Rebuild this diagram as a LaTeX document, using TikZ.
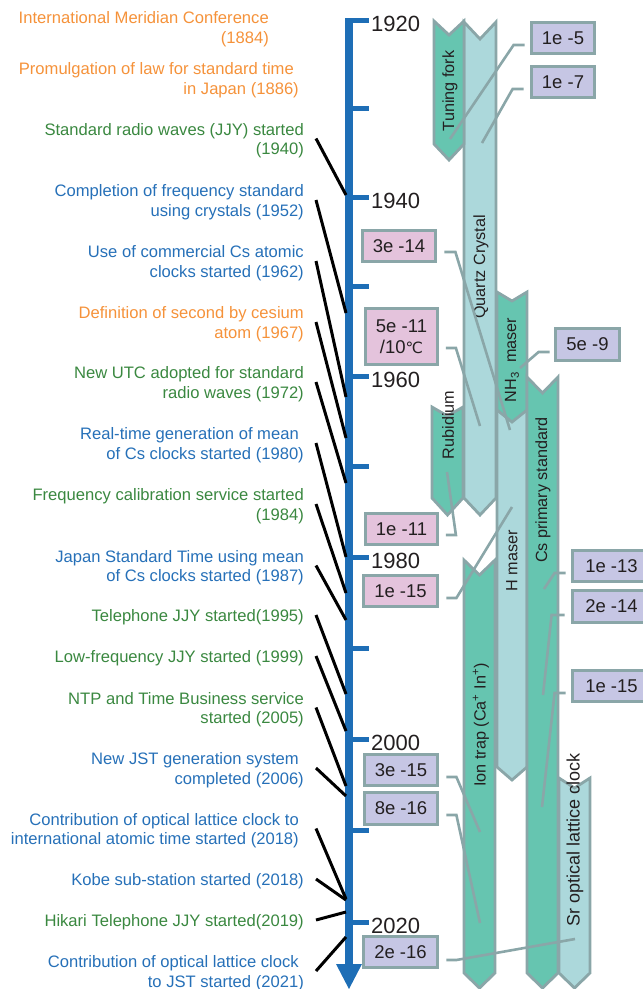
\documentclass[tikz,border=0pt]{standalone}
\usepackage{fontspec}
\setmainfont{Liberation Sans}
\newfontfamily\degfont{DejaVu Sans}

\definecolor{orangeT}{RGB}{245,146,58}
\definecolor{greenT}{RGB}{58,136,64}
\definecolor{blueT}{RGB}{38,112,184}
\definecolor{axisB}{RGB}{30,110,182}
\definecolor{barG}{RGB}{102,197,176}
\definecolor{barL}{RGB}{172,216,219}
\definecolor{edgeC}{RGB}{138,166,168}
\definecolor{pinkF}{RGB}{228,195,220}
\definecolor{lavF}{RGB}{198,198,228}
\definecolor{textD}{RGB}{35,31,32}

% chevron-shaped technology bar: left, right, top, notch depth, bottom, point depth, fill
\newcommand\chevbar[7]{%
  \filldraw[barline, fill=#7] (#1,#3) -- ({(#1+#2)/2},{#3+#4}) -- (#2,#3)
    -- (#2,#5) -- ({(#1+#2)/2},{#5+#6}) -- (#1,#5) -- cycle;}

\tikzset{
  evtext/.style={anchor=east, align=right, inner sep=0pt,
    font=\fontsize{16.6}{19.5}\selectfont},
  evline/.style={line width=3pt, black},
  yearlab/.style={anchor=west, inner sep=0pt,
    font=\fontsize{22}{24}\selectfont, text=textD},
  barline/.style={draw=edgeC, line width=2.8pt},
  barlab/.style={rotate=90, inner sep=0pt,
    font=\fontsize{16.2}{18}\selectfont, text=textD},
  valbox/.style={draw=edgeC, line width=2.8pt, inner sep=0pt,
    minimum height=31pt, align=center,
    font=\fontsize{18.5}{21}\selectfont, text=textD},
  pinkbox/.style={valbox, fill=pinkF, minimum width=73pt},
  lavbox/.style={valbox, fill=lavF, minimum width=73pt},
  leader/.style={draw=edgeC, line width=2.6pt},
}

\begin{document}
\begin{tikzpicture}[x=1pt,y=-1pt]
\useasboundingbox (0,0) rectangle (643,989);

% ---------- time axis ----------
\fill[axisB] (345,17.5) rectangle (353,966);
\fill[axisB] (336,964) -- (362,964) -- (349,989) -- cycle;
\foreach \ty in {20,108,197,286,376,466,557,648,739,830,922}
  \fill[axisB] (345,{\ty-2.5}) rectangle (369,{\ty+2.5});

\node[yearlab] (yr1920) at (371,23.5) {1920};
\node[yearlab] (yr1940) at (371,200.5) {1940};
\node[yearlab] (yr1960) at (371,379.5) {1960};
\node[yearlab] (yr1980) at (371,560.5) {1980};
\node[yearlab] (yr2000) at (371,742.5) {2000};
\node[yearlab] (yr2020) at (371,925.5) {2020};

% points on the axis where events are attached
\coordinate (a1940) at (346,195);
\coordinate (a1952) at (346,313);
\coordinate (a1962) at (346,397);
\coordinate (a1967) at (346,438);
\coordinate (a1972) at (346,483);
\coordinate (a1980) at (346,557);
\coordinate (a1984) at (346,593);
\coordinate (a1987) at (346,620);
\coordinate (a1995) at (346,694);
\coordinate (a1999) at (346,731);
\coordinate (a2005) at (346,786);
\coordinate (a2006) at (346,796);
\coordinate (a2018a) at (346,899);
\coordinate (a2018b) at (346,900);
\coordinate (a2019) at (346,912);
\coordinate (a2021) at (346,937);

% ---------- events ----------
\node[evtext, text=orangeT] (ev1) at (269,29) {International Meridian Conference\\(1884)};
\node[evtext, text=orangeT] (ev2) at (299,80) {Promulgation of law for standard time\hspace*{5pt}\\in Japan (1886)};
\node[evtext, text=greenT] (ev3) at (304,140.5) {Standard radio waves (JJY) started\\(1940)};
\node[evtext, text=blueT] (ev4) at (304,202) {Completion of frequency standard\\using crystals (1952)};
\node[evtext, text=blueT] (ev5) at (304,263) {Use of commercial Cs atomic\\clocks started (1962)};
\node[evtext, text=orangeT] (ev6) at (304,324) {Definition of second by cesium\\atom (1967)};
\node[evtext, text=greenT] (ev7) at (304,384) {New UTC adopted for standard\\radio waves (1972)};
\node[evtext, text=blueT] (ev8) at (304,445) {Real-time generation of mean\hspace*{5pt}\\of Cs clocks started (1980)};
\node[evtext, text=greenT] (ev9) at (304,506) {Frequency calibration service started\\(1984)};
\node[evtext, text=blueT] (ev10) at (304,567.5) {Japan Standard Time using mean\\of Cs clocks started (1987)};
\node[evtext, text=greenT] (ev11) at (304,617) {Telephone JJY started(1995)};
\node[evtext, text=greenT] (ev12) at (304,658) {Low-frequency JJY started (1999)};
\node[evtext, text=greenT] (ev13) at (304,709.5) {NTP and Time Business service\\started (2005)};
\node[evtext, text=blueT] (ev14) at (304,770) {New JST generation system\hspace*{5pt}\\completed (2006)};
\node[evtext, text=blueT] (ev15) at (299,830.5) {Contribution of optical lattice clock to\\international atomic time started (2018)};
\node[evtext, text=blueT] (ev16) at (304,881) {Kobe sub-station started (2018)};
\node[evtext, text=greenT] (ev17) at (304,922) {Hikari Telephone JJY started(2019)};
\node[evtext, text=blueT] (ev18) at (304,973) {Contribution of optical lattice clock\hspace*{5pt}\\to JST started (2021)};

\tikzset{evstart/.style={shift={(12,-2)}}}
\draw[evline] ([evstart]ev3.east) -- (a1940);
\draw[evline] ([evstart]ev4.east) -- (a1952);
\draw[evline] ([evstart]ev5.east) -- (a1962);
\draw[evline] ([evstart]ev6.east) -- (a1967);
\draw[evline] ([evstart]ev7.east) -- (a1972);
\draw[evline] ([evstart]ev8.east) -- (a1980);
\draw[evline] ([evstart]ev9.east) -- (a1984);
\draw[evline] ([evstart]ev10.east) -- (a1987);
\draw[evline] ([evstart]ev11.east) -- (a1995);
\draw[evline] ([evstart]ev12.east) -- (a1999);
\draw[evline] ([evstart]ev13.east) -- (a2005);
\draw[evline] ([evstart]ev14.east) -- (a2006);
\draw[evline] ([shift={(17,-2)}]ev15.east) -- (a2018a);
\draw[evline] ([evstart]ev16.east) -- (a2018b);
\draw[evline] ([evstart]ev17.east) -- (a2019);
\draw[evline] ([evstart]ev18.east) -- (a2021);

% ---------- technology bars ----------
\chevbar{464}{496}{22}{17}{498}{17}{barL}   % quartz crystal
\chevbar{434}{464}{21}{14}{144}{16}{barG}   % tuning fork
\chevbar{432}{463}{407}{9}{498}{17}{barG}   % rubidium
\chevbar{497}{527}{385}{15}{767}{13}{barL}  % hydrogen maser
\chevbar{497}{527}{292}{9}{410}{12}{barG}   % ammonia maser
\chevbar{527}{558}{377}{16}{973}{15}{barG}  % Cs primary standard
\chevbar{464}{495}{560}{15}{973}{15}{barG}  % ion trap
\chevbar{559}{590}{778}{10}{973}{15}{barL}  % Sr lattice clock

\node[barlab] (lbTF) at (450,91) {Tuning fork};
\node[barlab] (lbQC) at (481,267) {Quartz Crystal};
\node[barlab] (lbNH) at (512,360) {NH\textsubscript{3}\ \ maser};
\node[barlab] (lbHM) at (512,561) {H maser};
\node[barlab] (lbCs) at (543,490) {Cs primary standard};
\node[barlab] (lbRb) at (448,425) {Rubidium};
\node[barlab] (lbIon) at (481,725) {Ion trap (Ca\textsuperscript{+} In\textsuperscript{+})};
\node[barlab, font=\fontsize{18}{20}\selectfont] (lbSr) at (575,840) {Sr optical lattice clock};

% ---------- stability values ----------
\node[lavbox, minimum width=63pt] (b1) at (563,38) {1e -5};
\node[lavbox, minimum width=63pt] (b2) at (563,82) {1e -7};
\node[pinkbox] (b3) at (399,246) {3e -14};
\node[pinkbox, minimum width=72pt, minimum height=56pt] (b4) at (401.5,336.5) {5e -11\\/10{\degfont\fontsize{15.5}{18}\selectfont ℃}};
\node[lavbox, minimum width=64pt, minimum height=32pt] (b5) at (587.5,344.5) {5e -9};
\node[pinkbox, minimum width=72pt] (b6) at (401.5,529) {1e -11};
\node[pinkbox, minimum width=74pt] (b7) at (400.5,591) {1e -15};
\node[lavbox, minimum width=78pt] (b8) at (611.5,566) {1e -13};
\node[lavbox, minimum width=78pt, minimum height=32pt] (b9) at (611.5,606.5) {2e -14};
\node[lavbox, minimum width=78pt] (b10) at (611.5,686) {1e -15};
\node[lavbox] (b11) at (401,770) {3e -15};
\node[lavbox, minimum height=32pt] (b12) at (401,808.5) {8e -16};
\node[lavbox, minimum width=74pt] (b13) at (400.5,952) {2e -16};

% points inside the bars that the values refer to
\coordinate (t1) at (450,139);
\coordinate (t2) at (482,143);
\coordinate (t3) at (510,430);
\coordinate (t4) at (480,426);
\coordinate (t5) at (520,368);
\coordinate (t6) at (447,472);
\coordinate (t7) at (512,507);
\coordinate (t8) at (544,589);
\coordinate (t9) at (543,695);
\coordinate (t10) at (542,807);
\coordinate (t11) at (480,832);
\coordinate (t12) at (480,923);
\coordinate (t13) at (575,939);

\draw[leader] ([shift={(-5.5,7)}]b1.west) -- ++(-11,0) -- (t1);
\draw[leader] ([shift={(-6.5,7)}]b2.west) -- ++(-11,0) -- (t2);
\draw[leader] ([shift={(7.5,6)}]b3.east) -- ++(11,0) -- (t3);
\draw[leader] ([shift={(7,11.5)}]b4.east) -- ++(10,0) -- (t4);
\draw[leader] ([shift={(-4.5,7.5)}]b5.west) -- ++(-11,0) -- (t5);
\draw[leader] ([shift={(7,6)}]b6.east) -- ++(10,0) -- (t6);
\draw[leader] ([shift={(7.5,7)}]b7.east) -- ++(10,0) -- (t7);
\draw[leader] ([shift={(-5.5,7)}]b8.west) -- ++(-11,0) -- (t8);
\draw[leader] ([shift={(-6.5,8.5)}]b9.west) -- ++(-13,0) -- (t9);
\draw[leader] ([shift={(-5.5,7)}]b10.west) -- ++(-11,0) -- (t10);
\draw[leader] ([shift={(7.5,7)}]b11.east) -- ++(10,0) -- (t11);
\draw[leader] ([shift={(7.5,6.5)}]b12.east) -- ++(10,0) -- (t12);
\draw[leader] ([shift={(7.5,8)}]b13.east) -- ++(10,0) -- (t13);
\end{tikzpicture}
\end{document}
